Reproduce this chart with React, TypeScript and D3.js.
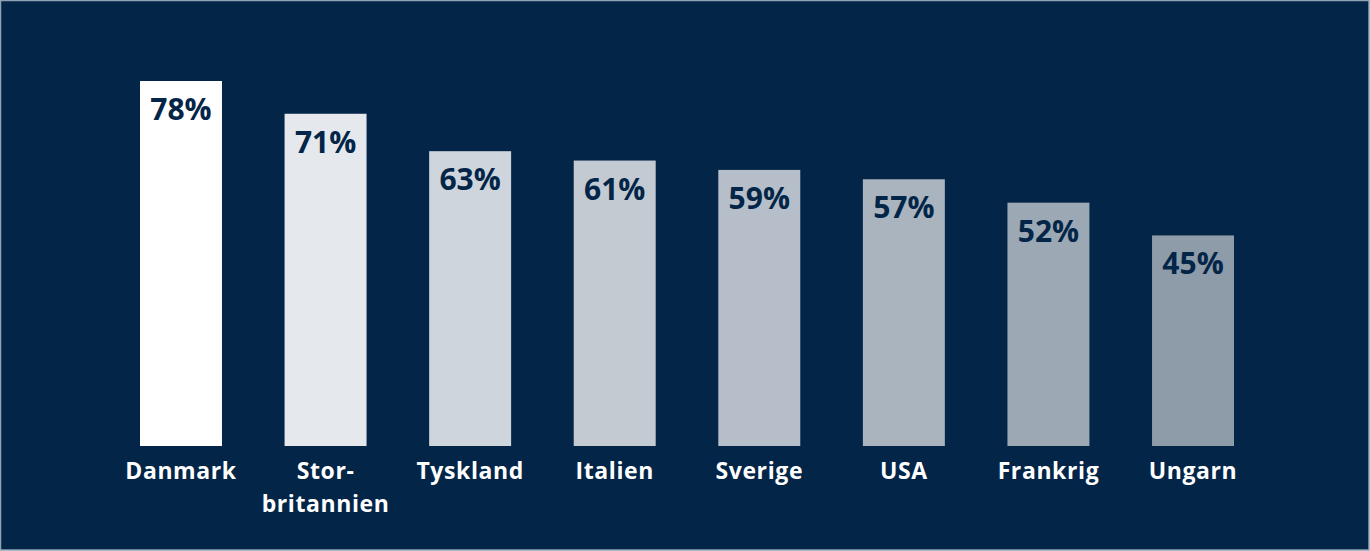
import { useEffect, useRef } from "react";
import * as d3 from "d3";

const categories = ["Danmark", "Stor-\nbritannien", "Tyskland", "Italien", "Sverige", "USA", "Frankrig", "Ungarn"];
const values = [78, 71, 63, 61, 59, 57, 52, 45];
const barColors = ["#ffffff", "#e5e9ed", "#cfd5dc", "#c3cad2", "#b6bfc9", "#a9b4bf", "#9ca8b4", "#8e9ba8"];

const width = 1370;
const height = 551;
const bg = "#022548";

export default function App() {
  const svgRef = useRef<SVGSVGElement | null>(null);

  useEffect(() => {
    const svg = d3.select(svgRef.current);
    svg.selectAll("*").remove();

    svg
      .append("rect")
      .attr("x", 0.5)
      .attr("y", 0.5)
      .attr("width", width - 1.5)
      .attr("height", height - 1.5)
      .attr("fill", bg)
      .attr("stroke", "#8fa3b5")
      .attr("stroke-width", 1.5);

    const x = d3
      .scaleBand<string>()
      .domain(categories)
      .range([77.4, 1296.6])
      .padding(0.433);

    // baseline at 446, 78% reaches 81
    const y = d3.scaleLinear().domain([0, 78]).range([446, 81]);

    const g = svg.append("g");

    g.selectAll("rect.bar")
      .data(values)
      .join("rect")
      .attr("class", "bar")
      .attr("x", (_, i) => x(categories[i])!)
      .attr("y", (d) => y(d))
      .attr("width", x.bandwidth())
      .attr("height", (d) => y(0) - y(d))
      .attr("fill", (_, i) => barColors[i]);

    g.selectAll("text.value")
      .data(values)
      .join("text")
      .attr("class", "value")
      .attr("x", (_, i) => x(categories[i])! + x.bandwidth() / 2)
      .attr("y", (d) => y(d) + 39)
      .attr("text-anchor", "middle")
      .attr("fill", bg)
      .attr("font-family", "'Open Sans', sans-serif")
      .attr("font-weight", 700)
      .attr("font-size", "30px")
      .text((d) => `${d}%`);

    const labels = g
      .selectAll("text.cat")
      .data(categories)
      .join("text")
      .attr("class", "cat")
      .attr("x", (d) => x(d)! + x.bandwidth() / 2)
      .attr("y", 479)
      .attr("text-anchor", "middle")
      .attr("fill", "#ffffff")
      .attr("font-family", "'Open Sans', sans-serif")
      .attr("font-weight", 700)
      .attr("font-size", "23px")
      .attr("letter-spacing", "0.6px");

    labels.each(function (d) {
      const t = d3.select(this);
      d.split("\n").forEach((line, j) => {
        t.append("tspan")
          .attr("x", x(d)! + x.bandwidth() / 2)
          .attr("dy", j === 0 ? 0 : 33)
          .text(line);
      });
    });
  }, []);

  return (
    <div style={{ position: "absolute", left: 0, top: 0 }}>
      <svg ref={svgRef} width={width} height={height} style={{ display: "block" }}></svg>
    </div>
  );
}
